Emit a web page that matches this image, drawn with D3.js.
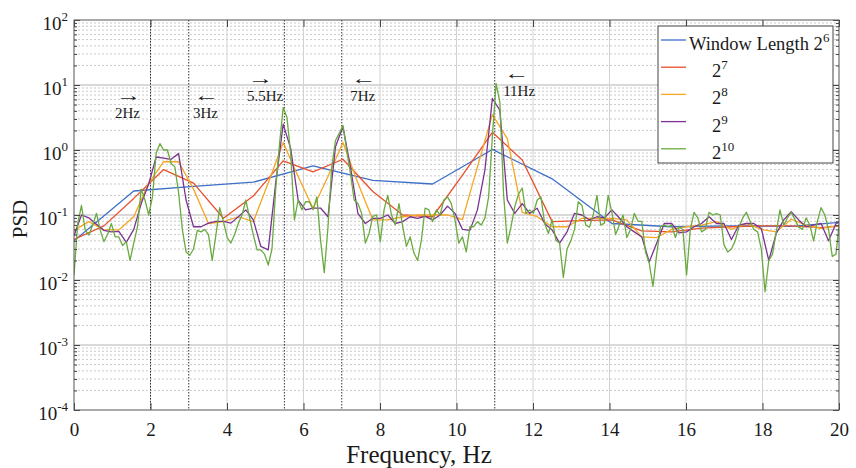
<!DOCTYPE html>
<html lang="en">
<head>
<meta charset="utf-8">
<title>PSD by window length</title>
<script src="https://cdn.jsdelivr.net/npm/d3@7/dist/d3.min.js"></script>
<style>
  body { margin: 0; background: #fff; }
  svg text { font-family: "Liberation Serif", "Times New Roman", serif; fill: #1a1a1a; }
</style>
</head>
<body>
<div id="chart"></div>
<script>
  const width = 856, height = 468;

  // window length exponents, colours and frequency resolution (Hz per bin)
  const seriesNames = ['6', '7', '8', '9', '10'];
  const seriesColors = ['#3d6fc8', '#e8502e', '#f5a623', '#7b3391', '#6aaa40'];
  const binWidth = [1.5625, 0.78125, 0.390625, 0.1953125, 0.09765625];

  // PSD values per bin
  const psd64 = [0.04, 0.234, 0.275, 0.32, 0.57, 0.34, 0.30, 1.02, 0.36, 0.074, 0.066, 0.068, 0.067, 0.08];
  const psd128 = [0.042, 0.068, 0.18, 0.5, 0.31, 0.089, 0.196, 0.68, 0.46, 0.72,
    0.23, 0.1, 0.094, 0.41, 1.87, 0.70, 0.079, 0.082, 0.084, 0.057,
    0.055, 0.063, 0.066, 0.068, 0.068, 0.064, 0.07];
  const psd256 = [0.058, 0.079, 0.059, 0.059, 0.094, 0.31, 0.66, 0.66, 0.25, 0.074,
    0.079, 0.094, 0.079, 0.31, 1.3, 0.39, 0.127, 0.39, 1.3, 0.31,
    0.084, 0.084, 0.094, 0.1, 0.1, 0.1, 0.085, 0.55, 3.5, 1.5,
    0.11, 0.094, 0.066, 0.066, 0.089, 0.089, 0.089, 0.084, 0.046, 0.045,
    0.06, 0.066, 0.07, 0.079, 0.06, 0.074, 0.06, 0.055, 0.086, 0.07,
    0.062, 0.068, 0.07];
  const psd512 = [0.048, 0.1, 0.09, 0.072, 0.058, 0.055, 0.056, 0.038, 0.06, 0.15,
    0.3, 0.78, 0.75, 0.72, 0.88, 0.17, 0.066, 0.066, 0.075, 0.08,
    0.08, 0.075, 0.094, 0.12, 0.084, 0.033, 0.029, 0.31, 2.5, 1.06,
    0.17, 0.12, 0.128, 0.128, 0.094, 1.12, 2.28, 0.55, 0.106, 0.074,
    0.089, 0.089, 0.1, 0.074, 0.079, 0.094, 0.089, 0.095, 0.084, 0.1,
    0.137, 0.106, 0.06, 0.058, 0.12, 0.49, 6.2, 4.1, 0.17, 0.106,
    0.15, 0.106, 0.127, 0.074, 0.059, 0.037, 0.055, 0.106, 0.1, 0.084,
    0.094, 0.09, 0.12, 0.09, 0.066, 0.055, 0.046, 0.019, 0.037, 0.074,
    0.074, 0.053, 0.055, 0.066, 0.074, 0.094, 0.074, 0.074, 0.042, 0.07,
    0.074, 0.074, 0.062, 0.02, 0.052, 0.084, 0.112, 0.084, 0.066, 0.07,
    0.074, 0.04, 0.074, 0.08];
  const psd1024 = [0.012, 0.074, 0.14, 0.059, 0.049, 0.07, 0.106, 0.059, 0.039, 0.05,
    0.074, 0.046, 0.046, 0.034, 0.039, 0.02, 0.037, 0.066, 0.25, 0.17,
    0.1, 0.19, 0.89, 1.25, 1.0, 1.0, 0.62, 0.55, 0.22, 0.06,
    0.027, 0.024, 0.03, 0.058, 0.055, 0.06, 0.05, 0.02, 0.05, 0.13,
    0.08, 0.045, 0.037, 0.05, 0.075, 0.1, 0.17, 0.09, 0.05, 0.029,
    0.029, 0.025, 0.017, 0.03, 0.25, 1.2, 4.5, 3.2, 0.9, 0.084,
    0.17, 0.12, 0.16, 0.16, 0.12, 0.19, 0.041, 0.013, 0.066, 0.55,
    1.4, 1.8, 2.4, 1.0, 0.44, 0.17, 0.15, 0.106, 0.037, 0.052,
    0.095, 0.1, 0.039, 0.12, 0.2, 0.1, 0.07, 0.15, 0.066, 0.033,
    0.046, 0.026, 0.02, 0.041, 0.128, 0.12, 0.079, 0.12, 0.1, 0.17,
    0.19, 0.15, 0.084, 0.037, 0.046, 0.027, 0.066, 0.066, 0.079, 0.07,
    0.089, 0.19, 1.6, 10.5, 5.5, 0.21, 0.037, 0.066, 0.134, 0.21,
    0.26, 0.106, 0.12, 0.106, 0.17, 0.19, 0.074, 0.052, 0.084, 0.041,
    0.037, 0.011, 0.03, 0.04, 0.06, 0.16, 0.14, 0.07, 0.065, 0.1,
    0.2, 0.07, 0.075, 0.2, 0.11, 0.05, 0.07, 0.1, 0.045, 0.06,
    0.106, 0.08, 0.08, 0.027, 0.018, 0.008, 0.025, 0.066, 0.07, 0.066,
    0.07, 0.045, 0.066, 0.06, 0.012, 0.06, 0.11, 0.09, 0.055, 0.06,
    0.11, 0.1, 0.105, 0.1, 0.035, 0.027, 0.03, 0.04, 0.065, 0.09,
    0.11, 0.08, 0.06, 0.055, 0.03, 0.0066, 0.02, 0.025, 0.055, 0.12,
    0.07, 0.09, 0.11, 0.085, 0.065, 0.06, 0.09, 0.07, 0.04, 0.08,
    0.13, 0.1, 0.06, 0.023, 0.025, 0.09];
  const allSeries = [psd64, psd128, psd256, psd512, psd1024];

  const xTicks = [0, 2, 4, 6, 8, 10, 12, 14, 16, 18, 20];
  const yTicks = [1e-4, 1e-3, 1e-2, 1e-1, 1e0, 1e1, 1e2];

  // dotted reference lines and their notes
  const markerFreqs = [2, 3, 5.5, 7, 11];
  const noteText = ['2Hz', '3Hz', '5.5Hz', '7Hz', '11Hz'];
  const noteArrow = ['\u2192', '\u2190', '\u2192', '\u2190', '\u2190'];
  const noteFreq = [1.07, 3.11, 4.52, 7.22, 11.22];
  const noteLevel = [3.1, 3.1, 5.7, 5.7, 6.8];

  const x = d3.scaleLinear().domain([0, 20]).range([74, 839]);
  const y = d3.scaleLog().domain([1e-4, 1e2]).range([410, 20]);
  const plotLeft = x(0), plotRight = x(20), plotTop = y(1e2), plotBottom = y(1e-4);

  // minor log ticks 2..9 inside each decade
  const minorTicks = [];
  yTicks.slice(0, -1).forEach(d => { for (let m = 2; m < 10; m++) minorTicks.push(m * d); });

  let svg = null;

  function createSvg() {
    svg = d3.select('#chart').append('svg').attr('width', width).attr('height', height);
    svg.append('rect').attr('width', width).attr('height', height).attr('fill', '#fff');
    svg.append('defs').append('clipPath').attr('id', 'plot-clip')
      .append('rect').attr('x', plotLeft).attr('y', plotTop)
      .attr('width', plotRight - plotLeft).attr('height', plotBottom - plotTop);
  }

  function renderGrid() {
    const g = svg.append('g').classed('grid', true);
    g.selectAll('line.minor').data(minorTicks).enter().append('line')
      .attr('x1', plotLeft).attr('x2', plotRight).attr('y1', d => y(d)).attr('y2', d => y(d))
      .attr('stroke', '#bdbdbd').attr('stroke-width', 0.8).attr('stroke-dasharray', '2,2');
    g.selectAll('line.major').data(yTicks.slice(1, -1)).enter().append('line')
      .attr('x1', plotLeft).attr('x2', plotRight).attr('y1', d => y(d)).attr('y2', d => y(d))
      .attr('stroke', '#cccccc').attr('stroke-width', 1.3);
    g.selectAll('line.vert').data(xTicks.slice(1, -1)).enter().append('line')
      .attr('x1', d => x(d)).attr('x2', d => x(d)).attr('y1', plotTop).attr('y2', plotBottom)
      .attr('stroke', '#d2d2d2').attr('stroke-width', 1);
    g.selectAll('line.marker').data(markerFreqs).enter().append('line')
      .attr('x1', d => x(d)).attr('x2', d => x(d)).attr('y1', plotTop).attr('y2', plotBottom)
      .attr('stroke', '#333').attr('stroke-width', 1).attr('stroke-dasharray', '1.5,1.5');
  }

  function renderLines() {
    const g = svg.append('g').attr('clip-path', 'url(#plot-clip)');
    allSeries.forEach((values, s) => {
      const line = d3.line().x((d, i) => x(i * binWidth[s])).y(d => y(d));
      g.append('path').datum(values)
        .attr('d', line)
        .attr('fill', 'none')
        .attr('stroke', seriesColors[s])
        .attr('stroke-width', 1.3)
        .attr('stroke-linejoin', 'round');
    });
  }

  function tidy(g) {
    g.select('.domain').remove();
    g.selectAll('.tick line').attr('stroke', '#444');
  }

  function renderAxes() {
    // bottom with labels, top without
    const bx = svg.append('g').attr('transform', `translate(0,${plotBottom})`)
      .call(d3.axisBottom(x).tickValues(xTicks).tickSizeInner(-7).tickSizeOuter(0).tickPadding(13));
    tidy(bx);
    bx.attr('font-size', 19).attr('font-family', null);
    svg.append('g').attr('transform', `translate(0,${plotTop})`)
      .call(d3.axisTop(x).tickValues(xTicks).tickSizeInner(-7).tickSizeOuter(0).tickFormat(''))
      .call(tidy);

    // left log axis with 10^n labels
    const ly = svg.append('g').attr('transform', `translate(${plotLeft},0)`)
      .call(d3.axisLeft(y).tickValues(yTicks).tickSizeInner(-6).tickSizeOuter(0).tickPadding(6));
    tidy(ly);
    ly.attr('font-size', 19).attr('font-family', null);
    ly.selectAll('.tick text').each(function (d) {
      const t = d3.select(this).text(null).attr('dy', '0.5em');
      t.append('tspan').text('10');
      t.append('tspan').attr('dy', -9).attr('font-size', 13).text(Math.round(Math.log10(d)));
    });
    svg.append('g').attr('transform', `translate(${plotLeft},0)`)
      .call(d3.axisLeft(y).tickValues(minorTicks).tickSizeInner(-3).tickSizeOuter(0).tickFormat(''))
      .call(tidy);

    // right side ticks
    svg.append('g').attr('transform', `translate(${plotRight},0)`)
      .call(d3.axisRight(y).tickValues(yTicks).tickSizeInner(-6).tickSizeOuter(0).tickFormat(''))
      .call(tidy);
    svg.append('g').attr('transform', `translate(${plotRight},0)`)
      .call(d3.axisRight(y).tickValues(minorTicks).tickSizeInner(-3).tickSizeOuter(0).tickFormat(''))
      .call(tidy);

    svg.append('rect').attr('x', plotLeft).attr('y', plotTop)
      .attr('width', plotRight - plotLeft).attr('height', plotBottom - plotTop)
      .attr('fill', 'none').attr('stroke', '#555').attr('stroke-width', 1);

    svg.append('text').text('PSD')
      .attr('transform', `translate(27,${(plotTop + plotBottom) / 2 + 4}) rotate(-90)`)
      .attr('text-anchor', 'middle').attr('font-size', 21);
    svg.append('text').text('Frequency, Hz')
      .attr('x', 419).attr('y', 463)
      .attr('text-anchor', 'middle').attr('font-size', 25);
  }

  function renderNotes() {
    const g = svg.append('g').attr('font-size', 15);
    noteText.forEach((txt, i) => {
      const nx = x(noteFreq[i]), ny = y(noteLevel[i]);
      g.append('text').attr('x', nx).attr('y', ny).text(txt);
      // arrow glyph stretched sideways so it stays thin and long
      g.append('text').attr('transform', `translate(${nx + 1},${ny - 17}) scale(1.5,1)`)
        .attr('font-size', 17).attr('fill', '#333').text(noteArrow[i]);
    });
  }

  function renderLegend() {
    const g = svg.append('g').classed('legend', true);
    g.append('rect').attr('x', 658).attr('y', 26).attr('width', 175).attr('height', 137)
      .attr('fill', '#fff').attr('stroke', '#444').attr('stroke-width', 1);
    seriesNames.forEach((n, i) => {
      const ly = 40 + i * 27.2;
      g.append('line').attr('x1', 661).attr('x2', 686).attr('y1', ly).attr('y2', ly)
        .attr('stroke', seriesColors[i]).attr('stroke-width', 1.3);
      const t = g.append('text').attr('x', i === 0 ? 689 : 712).attr('y', ly + 10).attr('font-size', 18.5);
      t.append('tspan').text(i === 0 ? 'Window Length 2' : '2');
      t.append('tspan').attr('dy', -8).attr('font-size', 13).text(n);
    });
  }

  function init() {
    createSvg();
    renderGrid();
    renderLines();
    renderAxes();
    renderNotes();
    renderLegend();
  }

  init();
</script>
</body>
</html>
